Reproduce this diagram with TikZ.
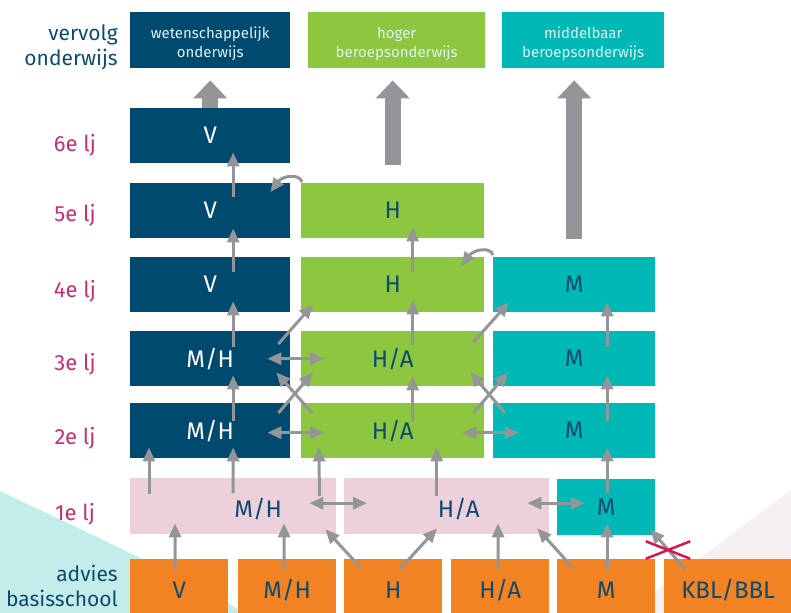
\documentclass[tikz,border=0pt]{standalone}
\usepackage{fontspec}
\setmainfont{Fira Sans}
\usetikzlibrary{arrows.meta,shapes.misc}

\definecolor{donker}{HTML}{004A6F}
\definecolor{groen}{HTML}{8DC63F}
\definecolor{turkoois}{HTML}{00B8B5}
\definecolor{roze}{HTML}{ECD0DC}
\definecolor{oranje}{HTML}{F28323}
\definecolor{grijs}{HTML}{939598}
\definecolor{paars}{HTML}{C53070}
\definecolor{tekst}{HTML}{0D4B6E}
\definecolor{licht}{HTML}{DDF2F3}
\definecolor{bgcyan}{HTML}{C3ECEA}
\definecolor{bgroze}{HTML}{F7F0F3}
\definecolor{rood}{HTML}{D6174F}

\tikzset{
  vak/.style={anchor=north west, minimum height=55pt, inner sep=0pt, font=\fontsize{24}{28}\selectfont},
  vwo/.style={vak, fill=donker, text=white, minimum width=160pt},
  havo/.style={vak, fill=groen, text=tekst, minimum width=183pt},
  vmbo/.style={vak, fill=turkoois, text=tekst, minimum width=162pt},
  brug/.style={vak, fill=roze, minimum height=56pt},
  brugtekst/.style={anchor=center, inner sep=0pt, text=tekst, yshift=-3pt, font=\fontsize{24}{28}\selectfont},
  adviesvak/.style={vak, fill=oranje, text=tekst, minimum height=62pt, minimum width=98pt},
  vervolg/.style={anchor=north west, minimum height=56pt, inner sep=0pt},
  vervolgtekst/.style={anchor=center, inner sep=0pt, align=center, text=licht, yshift=-4pt, font=\fontsize{15}{19}\selectfont},
  kop/.style={anchor=north east, align=right, inner sep=0pt, text=tekst, font=\fontsize{21}{25}\selectfont},
  leerjaar/.style={anchor=base, inner sep=0pt, text=paars, font=\fontsize{22}{26}\selectfont},
  pijl/.style={->, draw=grijs, line width=3pt},
  dubbelpijl/.style={<->, draw=grijs, line width=3pt},
  grootpijl/.style={draw=grijs, line width=16pt, -{Triangle[length=18pt,width=33pt]}},
  kruis/.style={cross out, draw=rood, line width=2.5pt, minimum width=42pt, minimum height=15pt, inner sep=0pt}
}

\begin{document}
\begin{tikzpicture}[x=1pt, y=-1pt, >={Triangle[length=14pt,width=12pt]}]
\useasboundingbox (0,0) rectangle (791,612);
\clip (0,0) rectangle (791,612);
% achtergrond
\fill [bgcyan] (0,491) .. controls (90,534) and (170,570) .. (250,616) -- (0,616) -- cycle;
\fill [bgroze] (625,614) -- (791,490) -- (791,614) -- cycle;

% vervolgonderwijs
\node [vervolg, fill=donker, minimum width=160pt, label={[vervolgtekst]center:wetenschappelijk\\onderwijs}] (wo) at (130,12) {};
\node [vervolg, fill=groen, minimum width=177pt, label={[vervolgtekst]center:hoger\\beroepsonderwijs}] (hbo) at (308,12) {};
\node [vervolg, fill=turkoois, minimum width=162pt, label={[vervolgtekst]center:middelbaar\\beroepsonderwijs}] (mbo) at (502,12) {};

% leerjaren
\node [vwo] (v6) at (130,108) {V};
\node [vwo] (v5) at (130,183) {V};
\node [havo] (h5) at (301,183) {H};
\node [vwo] (v4) at (130,257) {V};
\node [havo] (h4) at (301,257) {H};
\node [vmbo] (m4) at (493,257) {M};
\node [vwo] (mh3) at (130,331) {M/H};
\node [havo] (ha3) at (301,331) {H/A};
\node [vmbo] (m3) at (493,331) {M};
\node [vwo] (mh2) at (130,403) {M/H};
\node [havo] (ha2) at (301,403) {H/A};
\node [vmbo] (m2) at (493,403) {M};
\node [brug, minimum width=206pt, label={[brugtekst, xshift=25pt]center:M/H}] (mh1) at (130,478) {};
\node [brug, minimum width=205pt, label={[brugtekst, xshift=12pt]center:H/A}] (ha1) at (344,478) {};
\node [vmbo, minimum width=98pt, minimum height=56pt] (m1) at (557,479) {M};

% advies
\node [adviesvak] (av) at (130,559) {V};
\node [adviesvak] (amh) at (238,559) {M/H};
\node [adviesvak] (ah) at (344,559) {H};
\node [adviesvak] (aha) at (451,559) {H/A};
\node [adviesvak] (am) at (557,559) {M};
\node [adviesvak, minimum width=128pt] (akb) at (664,559) {KBL/BBL};

% opschriften
\node [kop] (vervolg) at (118,25) {vervolg\\onderwijs};
\node [leerjaar] (lj6) at (75,152) {6e lj};
\node [leerjaar] (lj5) at (75,221) {5e lj};
\node [leerjaar] (lj4) at (75,297) {4e lj};
\node [leerjaar] (lj3) at (75,370) {3e lj};
\node [leerjaar] (lj2) at (75,444) {2e lj};
\node [leerjaar] (lj1) at (75,520) {1e lj};
\node [kop] (advies) at (118,565) {advies\\basisschool};

% grote pijlen
\draw [grootpijl, shorten >=12pt] (v6.north) -- (v6.north |- wo.south);
\draw [grootpijl, shorten <=18pt, shorten >=12pt] (h5.north) -- (h5.north |- hbo.south);
\draw [grootpijl, shorten <=18pt, shorten >=12pt] (m4.north) -- (m4.north |- mbo.south);

% doorstroom
\draw [pijl] ([shift={(23,14)}]v5.north) -- ([shift={(23,-11)}]v6.south);
\draw [pijl] ([shift={(23,15)}]v4.north) -- ([shift={(23,-10)}]v5.south);
\draw [pijl] ([shift={(23,16)}]mh3.north) -- ([shift={(23,-11)}]v4.south);
\draw [pijl] ([shift={(23,18)}]mh2.north) -- ([shift={(23,-11)}]mh3.south);
\draw [pijl] ([shift={(20,15)}]h4.north) -- ([shift={(20,-11)}]h5.south);
\draw [pijl] ([shift={(20,14)}]ha3.north) -- ([shift={(20,-12)}]h4.south);
\draw [pijl] ([shift={(20,19)}]ha2.north) -- ([shift={(20,-10)}]ha3.south);
\draw [pijl] ([shift={(33,16)}]m3.north) -- ([shift={(33,-10)}]m4.south);
\draw [pijl] ([shift={(33,18)}]m2.north) -- ([shift={(33,-11)}]m3.south);
\draw [pijl] ([shift={(1,14)}]m1.north) -- ([shift={(33,-11)}]m2.south);

% schuin tussen 2e, 3e en 4e lj
\draw [pijl] ([shift={(-12,10)}]mh2.north east) -- ([shift={(12,-14)}]ha3.south west);
\draw [pijl] ([shift={(11,10)}]ha2.north west) -- ([shift={(-14,-14)}]mh3.south east);
\draw [pijl] ([shift={(-11,10)}]ha2.north east) -- ([shift={(15,-14)}]m3.south west);
\draw [pijl] ([shift={(12,10)}]m2.north west) -- ([shift={(-14,-14)}]ha3.south east);
\draw [pijl] ([shift={(-12,13)}]mh3.north east) -- ([shift={(12,-8)}]h4.south west);
\draw [pijl] ([shift={(-11,11)}]ha3.north east) -- ([shift={(16,-10)}]m4.south west);

% opstromen
\draw [pijl] ([shift={(0,-2)}]m4.north west) .. controls +(-3,-9) and +(12,-16) .. ([shift={(-23,9)}]h4.north east);
\draw [pijl] ([shift={(1,-1)}]h5.north west) .. controls +(-3,-9) and +(12,-16) .. ([shift={(-20,9)}]v5.north east);

% wisselen
\draw [dubbelpijl] ([shift={(-23,0)}]mh3.east) -- ([shift={(23,0)}]ha3.west);
\draw [dubbelpijl] ([shift={(-23,2)}]mh2.east) -- ([shift={(23,2)}]ha2.west);
\draw [dubbelpijl] ([shift={(-22,2)}]ha2.east) -- ([shift={(26,2)}]m2.west);
\draw [dubbelpijl] ([shift={(-27,-3)}]mh1.east) -- ([shift={(23,-3)}]ha1.west);
\draw [dubbelpijl] ([shift={(-22,-3)}]ha1.east) -- ([shift={(28,-4)}]m1.west);

% 1e lj naar 2e lj
\draw [pijl] ([shift={(19,16)}]mh1.north west) -- ([shift={(19,-11)}]mh2.south west);
\draw [pijl] ([shift={(103,15)}]mh1.north west) -- ([shift={(23,-11)}]mh2.south);
\draw [pijl] ([shift={(-17,18)}]mh1.north east) -- ([shift={(18,-11)}]ha2.south west);
\draw [pijl] ([shift={(-10,18)}]ha1.north) -- ([shift={(44,-11)}]ha2.south);

% advies naar 1e lj
\draw [pijl] ([shift={(-4,10)}]av.north) -- ([shift={(45,-11)}]mh1.south west);
\draw [pijl] ([shift={(-3,10)}]amh.north) -- ([shift={(154,-11)}]mh1.south west);
\draw [pijl] ([shift={(17,9)}]ah.north west) -- ([shift={(-11,-5)}]mh1.south east);
\draw [pijl] ([shift={(56,10)}]ah.north west) -- ([shift={(93,-6)}]ha1.south west);
\draw [pijl] ([shift={(-2,10)}]aha.north) -- ([shift={(154,-11)}]ha1.south west);
\draw [pijl] ([shift={(16,9)}]am.north west) -- ([shift={(-12,-6)}]ha1.south east);
\draw [pijl] ([shift={(1,10)}]am.north) -- ([shift={(1,-12)}]m1.south);
\draw [pijl] ([shift={(21,10)}]akb.north west) -- ([shift={(-5,-6)}]m1.south east);
\node [kruis] (kruis) at (668,550) {};
\end{tikzpicture}
\end{document}
